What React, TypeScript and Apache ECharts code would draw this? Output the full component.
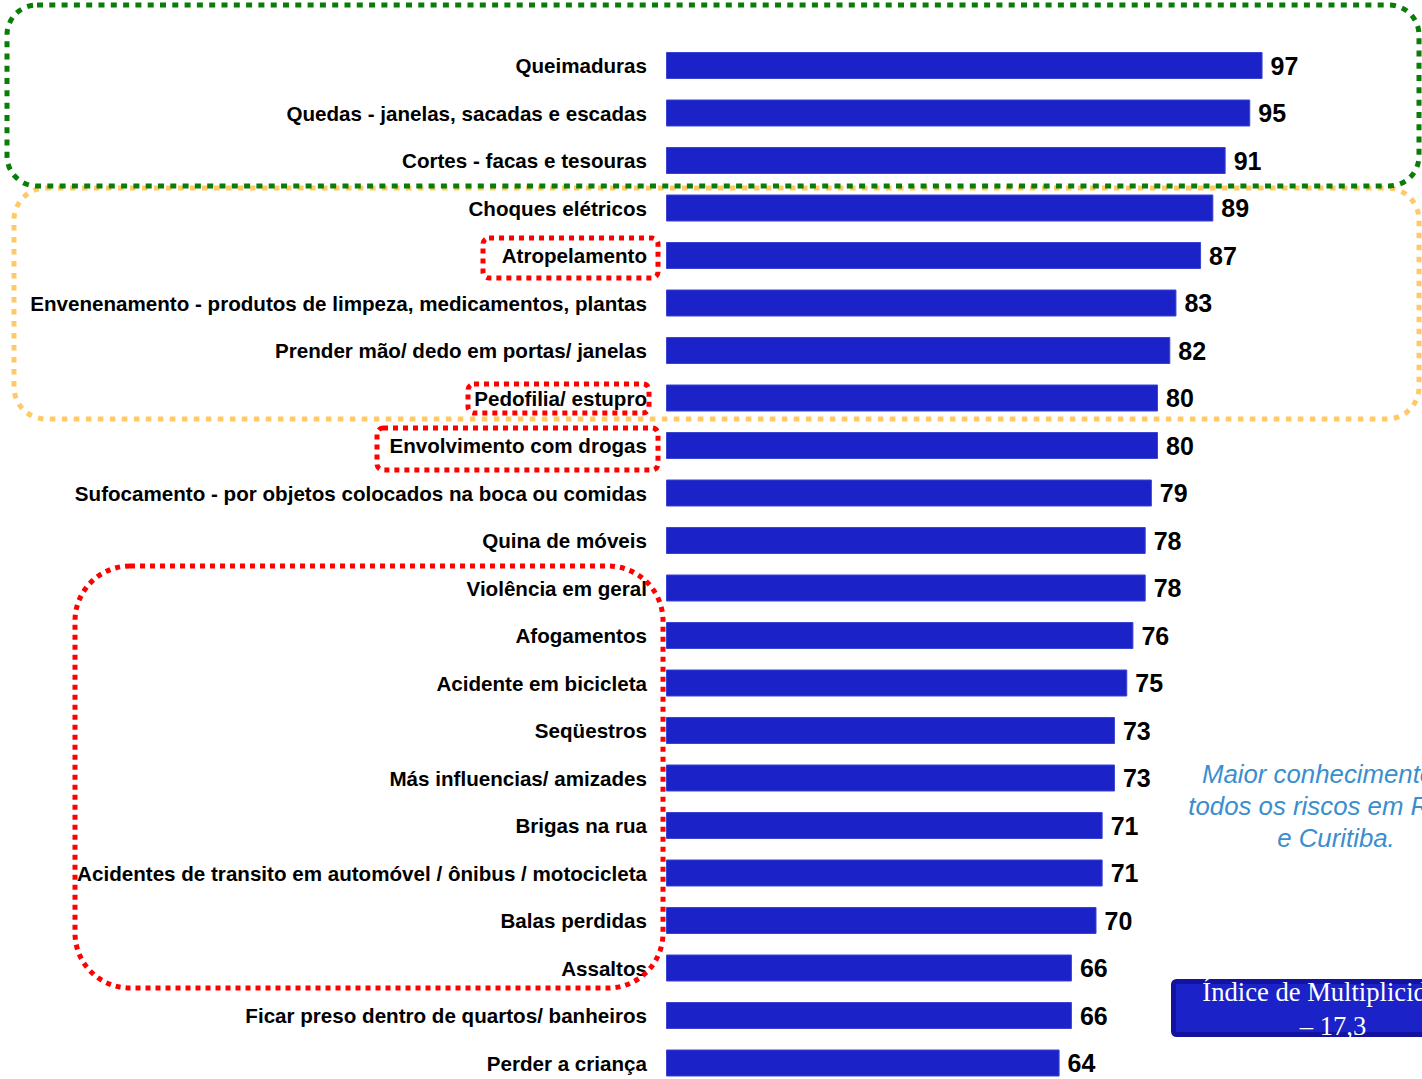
import React, { useEffect, useRef } from "react";
import * as echarts from "echarts";

const categories: string[] = [
  "Queimaduras",
  "Quedas - janelas, sacadas e escadas",
  "Cortes - facas e tesouras",
  "Choques elétricos",
  "Atropelamento",
  "Envenenamento - produtos de limpeza, medicamentos, plantas",
  "Prender mão/ dedo em portas/ janelas",
  "Pedofilia/ estupro",
  "Envolvimento com drogas",
  "Sufocamento - por objetos colocados na boca ou comidas",
  "Quina de móveis",
  "Violência em geral",
  "Afogamentos",
  "Acidente em bicicleta",
  "Seqüestros",
  "Más influencias/ amizades",
  "Brigas na rua",
  "Acidentes de transito em automóvel / ônibus / motocicleta",
  "Balas perdidas",
  "Assaltos",
  "Ficar preso dentro de quartos/ banheiros",
  "Perder a criança",
];

const values: number[] = [97, 95, 91, 89, 87, 83, 82, 80, 80, 79, 78, 78, 76, 75, 73, 73, 71, 71, 70, 66, 66, 64];

const noteLines: string[] = ["Maior conhecimento de", "todos os riscos em Recife", "e Curitiba."];
const indexLines: string[] = ["Índice de Multiplicidade", "– 17,3"];

const SANS = "'Liberation Sans', Arial, Helvetica, sans-serif";
const SERIF = "'Liberation Serif', 'Times New Roman', serif";

export default function App() {
  const ref = useRef<HTMLDivElement>(null);

  useEffect(() => {
    if (!ref.current) return;
    const chart = echarts.init(ref.current, undefined, { renderer: "svg" });
    chart.setOption({
      animation: false,
      backgroundColor: "#ffffff",
      grid: { left: 666, top: 41.75, width: 615, height: 1045 },
      xAxis: {
        type: "value",
        min: 0,
        max: 100,
        show: false,
        splitLine: { show: false },
      },
      yAxis: {
        type: "category",
        data: categories,
        inverse: true,
        axisLine: { show: false },
        axisTick: { show: false },
        axisLabel: {
          margin: 19,
          fontSize: 20.6,
          fontWeight: "bold",
          color: "#000000",
          fontFamily: SANS,
          padding: [3, 0, 0, 0],
        },
      },
      series: [
        {
          type: "bar",
          data: values,
          barWidth: 27,
          itemStyle: { color: "#1B22C8", borderColor: "#3A43D2", borderWidth: 1 },
          label: {
            show: true,
            position: "right",
            distance: 8,
            fontSize: 25,
            fontWeight: "bold",
            color: "#000000",
            fontFamily: SANS,
            padding: [3, 0, 0, 0],
          },
        },
      ],
      graphic: [
        {
          type: "rect",
          shape: { x: 14, y: 188, width: 1405, height: 231, r: 32 },
          style: { fill: "none", stroke: "#FFC966", lineWidth: 5, lineDash: [5.5, 6.5] },
          z: 10,
        },
        {
          type: "rect",
          shape: { x: 7, y: 5, width: 1412, height: 181, r: 30 },
          style: { fill: "none", stroke: "#087D08", lineWidth: 5, lineDash: [6, 6.3] },
          z: 11,
        },
        {
          type: "rect",
          shape: { x: 483, y: 238, width: 175, height: 40, r: 6 },
          style: { fill: "none", stroke: "#FF0000", lineWidth: 5, lineDash: [5, 5] },
          z: 12,
        },
        {
          type: "rect",
          shape: { x: 468, y: 384, width: 181, height: 29, r: 6 },
          style: { fill: "none", stroke: "#FF0000", lineWidth: 5, lineDash: [5, 5] },
          z: 12,
        },
        {
          type: "rect",
          shape: { x: 377, y: 428, width: 281, height: 42, r: 6 },
          style: { fill: "none", stroke: "#FF0000", lineWidth: 5, lineDash: [5, 5] },
          z: 12,
        },
        {
          type: "rect",
          shape: { x: 75, y: 566, width: 588, height: 422, r: 55 },
          style: { fill: "none", stroke: "#FF0000", lineWidth: 5, lineDash: [5, 5] },
          z: 12,
        },
        {
          type: "text",
          x: 1336,
          y: 806,
          style: {
            text: noteLines.join("\n"),
            fill: "#3B8ECE",
            font: `italic 25.8px ${SANS}`,
            align: "center",
            verticalAlign: "middle",
            lineHeight: 32,
          },
          z: 12,
        },
        {
          type: "rect",
          shape: { x: 1173.5, y: 981.5, width: 330, height: 53, r: 3 },
          style: { fill: "#1B22C8", stroke: "#1313A0", lineWidth: 5 },
          z: 12,
        },
        {
          type: "text",
          x: 1333,
          y: 1009,
          style: {
            text: indexLines.join("\n"),
            fill: "#ffffff",
            font: `26.6px ${SERIF}`,
            align: "center",
            verticalAlign: "middle",
            lineHeight: 34,
          },
          z: 13,
        },
      ],
    });
    return () => chart.dispose();
  }, []);

  return (
    <div
      ref={ref}
      style={{ position: "fixed", left: 0, top: 0, width: 1422, height: 1095, background: "#fff" }}
    />
  );
}
